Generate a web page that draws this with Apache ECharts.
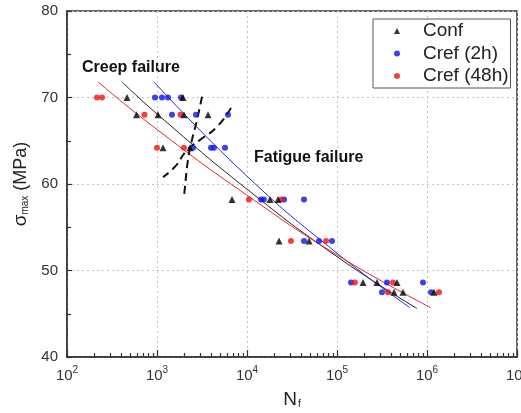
<!DOCTYPE html>
<html>
<head>
<meta charset="utf-8">
<script src="https://cdn.jsdelivr.net/npm/echarts@6/dist/echarts.min.js"></script>
<style>
  html, body { margin: 0; padding: 0; background: #fff; }
  #chart { width: 521px; height: 413px; }
</style>
</head>
<body>
<div id="chart"></div>
<script>
// Cycles to failure N_f and maximum stress (MPa) for each specimen group
const confPoints = [
  [464, 70], [1945, 70],
  [592, 68], [1026, 68], [1995, 68], [3690, 68],
  [1166, 64.2], [2326, 64.2],
  [6810, 58.2], [18000, 58.2], [22100, 58.2],
  [22700, 53.4], [48900, 53.4],
  [194500, 48.6], [278000, 48.6], [464000, 48.6],
  [430000, 47.5], [541000, 47.5], [1196000, 47.5]
];
const cref2hPoints = [
  [950, 70], [1136, 70], [1325, 70], [1848, 70],
  [1468, 68], [2712, 68], [6150, 68],
  [2512, 64.2], [3981, 64.2], [4300, 64.2], [5700, 64.2],
  [14300, 58.2], [15400, 58.2], [25800, 58.2], [43000, 58.2],
  [43000, 53.4], [63100, 53.4], [88000, 53.4],
  [143000, 48.6], [359000, 48.6], [903000, 48.6],
  [316000, 47.5], [1108000, 47.5]
];
const cref48hPoints = [
  [215, 70], [245, 70],
  [726, 68], [1824, 68],
  [1000, 64.2], [1995, 64.2],
  [10500, 58.2], [23900, 58.2],
  [30800, 53.4], [75500, 53.4],
  [158000, 48.6], [419000, 48.6],
  [369000, 47.5], [1359000, 47.5]
];

// S-N trend curves for each group
const confFit = [[408, 71.8], [1000, 68.1], [10000, 59.4], [100000, 51.6], [775000, 45.6]];
const cref2hFit = [[926, 71.8], [10000, 60.9], [100000, 52.0], [647000, 45.7]];
const cref48hFit = [[221, 71.8], [1000, 66.3], [10000, 58.7], [100000, 51.8], [1100000, 45.7]];

// Boundaries between the creep and fatigue failure regions
const boundaryA = [[3162, 70.1], [2783, 67.4], [2447, 65.1], [2210, 62.8], [2047, 59.7], [1995, 58.5]];
const boundaryB = [[6637, 68.8], [4642, 66.6], [3006, 65.1], [2154, 63.9], [1585, 62.0], [1166, 60.8]];

// Axis ranges and minor log ticks
const xMin = 100, xMax = 1e7;
const yMin = 40, yMax = 80, yStep = 10;
const xMinorTicks = [];
for (let d = 100; d < xMax; d *= 10) {
  for (let k = 2; k <= 9; k++) xMinorTicks.push(d * k);
}

const FONT = 'Liberation Sans, Arial, sans-serif';
const chart = echarts.init(document.getElementById('chart'), null, { renderer: 'canvas' });

chart.setOption({
  animation: false,
  backgroundColor: '#fff',
  grid: {
    left: 67, top: 11, right: 4, bottom: 56,
    show: true, borderColor: '#333', borderWidth: 1.5,
    containLabel: false, outerBoundsMode: 'none'
  },
  legend: {
    orient: 'vertical',
    left: 373, top: 19,
    data: ['Conf', 'Cref (2h)', 'Cref (48h)'],
    itemWidth: 6, itemHeight: 6, itemGap: 2.5,
    padding: [2, 2, 2, 21],
    borderColor: '#555', borderWidth: 1,
    backgroundColor: '#fff',
    textStyle: { fontFamily: FONT, fontSize: 19, color: '#222', lineHeight: 20, padding: [0, 0, 0, 18] }
  },
  xAxis: [{
    type: 'log', logBase: 10, min: xMin, max: xMax,
    name: '{n|N}{sub|f}',
    nameLocation: 'middle', nameGap: 30,
    nameTextStyle: {
      rich: {
        n: { fontFamily: FONT, fontSize: 19, color: '#222', lineHeight: 22, verticalAlign: 'bottom' },
        sub: { fontFamily: FONT, fontSize: 10, color: '#222', lineHeight: 10, verticalAlign: 'bottom', padding: [0, 0, 0, 1] }
      }
    },
    axisLine: { show: true, lineStyle: { color: '#333', width: 1.5 } },
    axisTick: { show: true, inside: true, length: 7, lineStyle: { color: '#333', width: 1.2 } },
    axisLabel: {
      margin: 8,
      formatter: v => '{b|10}{e|' + Math.round(Math.log10(v)) + '}',
      rich: {
        b: { fontFamily: FONT, fontSize: 15, color: '#333', lineHeight: 18, verticalAlign: 'bottom' },
        e: { fontFamily: FONT, fontSize: 10, color: '#333', lineHeight: 18, verticalAlign: 'top' }
      }
    },
    splitLine: { show: true, lineStyle: { color: '#c4c4c4', type: [2, 3], width: 1 } },
    minorTick: { show: false }
  }, {
    type: 'log', logBase: 10, min: xMin, max: xMax, position: 'bottom',
    axisLine: { show: false },
    axisTick: { show: true, inside: true, length: 4, customValues: xMinorTicks, lineStyle: { color: '#333', width: 1.2 } },
    axisLabel: { show: false },
    splitLine: { show: false }
  }],
  yAxis: {
    type: 'value', min: yMin, max: yMax, interval: yStep,
    name: '{s|σ}{sub|max}{n| (MPa)}',
    nameLocation: 'middle', nameGap: 24, nameRotate: 90,
    nameTextStyle: {
      rich: {
        s: { fontFamily: FONT, fontSize: 19, color: '#222', lineHeight: 22, verticalAlign: 'bottom' },
        sub: { fontFamily: FONT, fontSize: 10, color: '#222', lineHeight: 10, verticalAlign: 'bottom' },
        n: { fontFamily: FONT, fontSize: 18, color: '#222', lineHeight: 22, verticalAlign: 'bottom' }
      }
    },
    axisLine: { show: true, lineStyle: { color: '#333', width: 1.5 } },
    axisTick: { show: true, inside: true, length: 5, lineStyle: { color: '#333', width: 1.2 } },
    minorTick: { show: true, splitNumber: 2, length: 4, lineStyle: { color: '#333', width: 1.2 } },
    axisLabel: { fontFamily: FONT, fontSize: 15, color: '#333', margin: 9 },
    splitLine: { show: true, lineStyle: { color: '#c4c4c4', type: [2, 3], width: 1 } }
  },
  graphic: [
    { type: 'text', left: 82, top: 60, style: { text: 'Creep failure', font: 'bold 16px ' + FONT, fill: '#111' } },
    { type: 'text', left: 254, top: 150, style: { text: 'Fatigue failure', font: 'bold 16px ' + FONT, fill: '#111' } }
  ],
  series: [
    { name: 'Conf fit', type: 'line', data: confFit, smooth: true, showSymbol: false, symbol: 'none',
      lineStyle: { color: '#222', width: 1 }, z: 2, silent: true },
    { name: 'Cref (2h) fit', type: 'line', data: cref2hFit, smooth: true, showSymbol: false, symbol: 'none',
      lineStyle: { color: '#2b2bd6', width: 1 }, z: 2, silent: true },
    { name: 'Cref (48h) fit', type: 'line', data: cref48hFit, smooth: true, showSymbol: false, symbol: 'none',
      lineStyle: { color: '#e02a2a', width: 1 }, z: 2, silent: true },
    { name: 'boundary A', type: 'line', data: boundaryA, smooth: true, showSymbol: false, symbol: 'none',
      lineStyle: { color: '#111', width: 2, type: [8, 5] }, z: 3, silent: true },
    { name: 'boundary B', type: 'line', data: boundaryB, smooth: true, showSymbol: false, symbol: 'none',
      lineStyle: { color: '#111', width: 2, type: [8, 5] }, z: 3, silent: true },
    { name: 'Cref (2h)', type: 'scatter', data: cref2hPoints, symbol: 'circle', symbolSize: 6,
      itemStyle: { color: '#1010f0' }, z: 4 },
    { name: 'Cref (48h)', type: 'scatter', data: cref48hPoints, symbol: 'circle', symbolSize: 6,
      itemStyle: { color: '#f01010' }, z: 5 },
    { name: 'Conf', type: 'scatter', data: confPoints, symbol: 'triangle', symbolSize: 7,
      itemStyle: { color: '#000' }, z: 6 }
  ]
});
</script>
</body>
</html>
